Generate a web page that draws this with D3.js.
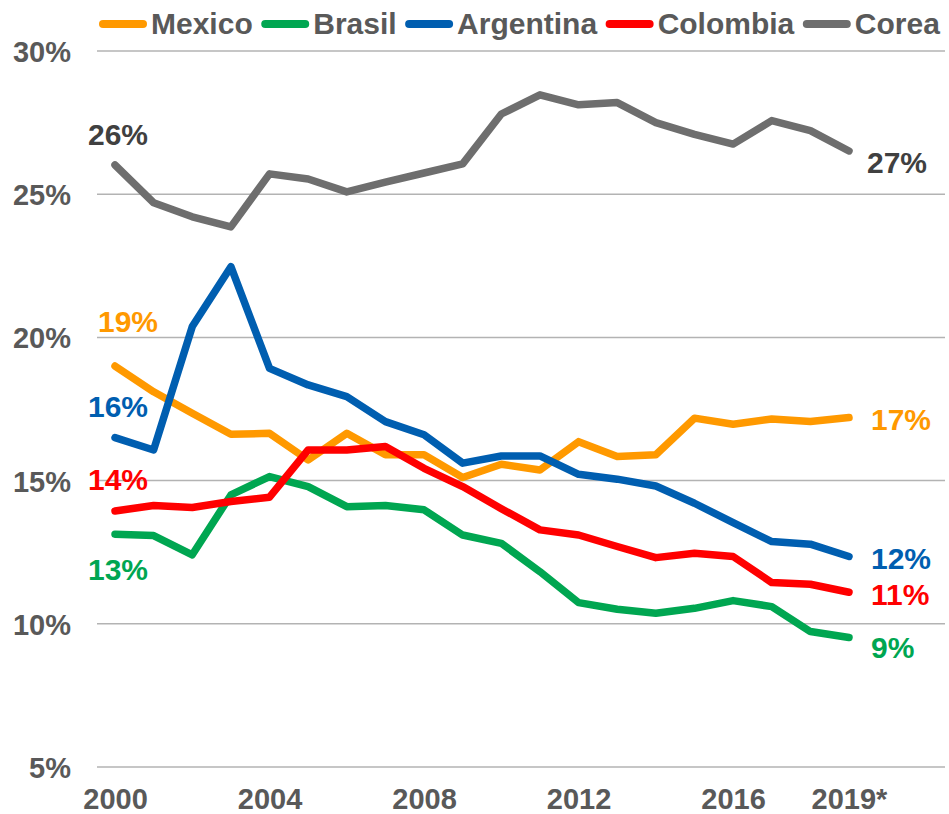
<!DOCTYPE html>
<html>
<head>
<meta charset="utf-8">
<script src="https://cdn.jsdelivr.net/npm/d3@7"></script>
<style>
  body { margin: 0; background: #fff; }
  text { font-family: "Liberation Sans", Arial, sans-serif; font-weight: bold; }
</style>
</head>
<body>
<div id="graf"></div>
<script>
// donnees
var annees = d3.range(2000, 2020);
var series = ["Mexico", "Brasil", "Argentina", "Colombia", "Corea"];
var couleurs = ["#ff9900", "#00a651", "#005eb0", "#ff0000", "#6e6e6e"];
var couleursLabel = ["#ff9900", "#00a651", "#005eb0", "#ff0000", "#404040"];

var mexico = [19.0, 18.1, 17.35, 16.62, 16.65, 15.72, 16.65, 15.9, 15.9, 15.11,
              15.57, 15.37, 16.36, 15.84, 15.9, 17.18, 16.97, 17.15, 17.06, 17.2];
var brasil = [13.13, 13.08, 12.41, 14.5, 15.14, 14.79, 14.09, 14.13, 13.98, 13.1,
              12.81, 11.82, 10.74, 10.51, 10.37, 10.54, 10.81, 10.6, 9.73, 9.52];
var argentina = [16.5, 16.07, 20.38, 22.47, 18.92, 18.34, 17.93, 17.06, 16.6, 15.61,
                 15.86, 15.86, 15.22, 15.05, 14.81, 14.21, 13.53, 12.87, 12.78, 12.35];
var colombia = [13.94, 14.13, 14.06, 14.27, 14.42, 16.07, 16.07, 16.19, 15.43, 14.79,
                14.02, 13.28, 13.1, 12.7, 12.31, 12.46, 12.35, 11.44, 11.38, 11.1];
var corea = [26.02, 24.7, 24.21, 23.86, 25.71, 25.53, 25.08, 25.42, 25.74, 26.06,
             27.8, 28.47, 28.12, 28.2, 27.5, 27.09, 26.75, 27.57, 27.22, 26.51];
var valeurs = [mexico, brasil, argentina, colombia, corea];

var labelsDebut = ["19%", "13%", "16%", "14%", "26%"];
var labelsFin = ["17%", "9%", "12%", "11%", "27%"];

var ticksY = [5, 10, 15, 20, 25, 30];
var ticksX = [2000, 2004, 2008, 2012, 2016, 2019];
var ticksXLabels = ["2000", "2004", "2008", "2012", "2016", "2019*"];

//----------------------------------------------------------------
// svg
var largeur = 949, hauteur = 814;
var svg = d3.select("#graf")
  .append("svg")
  .attr("width", largeur)
  .attr("height", hauteur);

var x = d3.scaleLinear().domain([2000, 2019]).range([115, 849]);
var y = d3.scaleLinear().domain([5, 30]).range([767, 51]);

// grille
svg.selectAll(".grille")
  .data(ticksY)
  .enter()
  .append("line")
  .attr("x1", 97).attr("x2", 945)
  .attr("y1", function(d){ return y(d); })
  .attr("y2", function(d){ return y(d); })
  .attr("stroke", "#b3b3b3")
  .attr("stroke-width", 1.5);

// axe y
var axeY = d3.axisLeft(y).tickValues(ticksY)
  .tickFormat(function(d){ return d + "%"; })
  .tickSize(0).tickPadding(0);
svg.append("g")
  .attr("transform", "translate(71,0)")
  .call(axeY)
  .call(function(g){ g.select(".domain").remove(); })
  .selectAll("text")
  .attr("font-size", "29px")
  .attr("font-family", null)
  .attr("fill", "#595959")
  .attr("dy", "0.36em");

// axe x
var axeX = d3.axisBottom(x).tickValues(ticksX)
  .tickFormat(function(d, i){ return ticksXLabels[i]; })
  .tickSize(0).tickPadding(0);
svg.append("g")
  .attr("transform", "translate(0,788)")
  .call(axeX)
  .call(function(g){ g.select(".domain").remove(); })
  .selectAll("text")
  .attr("font-size", "29px")
  .attr("font-family", null)
  .attr("fill", "#595959")
  .attr("dy", "0.72em");

// lignes
var ligne = d3.line()
  .x(function(d, i){ return x(annees[i]); })
  .y(function(d){ return y(d); });

svg.selectAll(".serie")
  .data(valeurs)
  .enter()
  .append("path")
  .attr("class", "serie")
  .attr("d", ligne)
  .attr("fill", "none")
  .attr("stroke", function(d, i){ return couleurs[i]; })
  .attr("stroke-width", 7.5)
  .attr("stroke-linejoin", "round")
  .attr("stroke-linecap", "round");

// etiquettes debut / fin (decalages en px)
var decalDebut = [[158, -34], [148, 46], [148, -21], [148, -21], [148, -20]];
var decalFin = [[22, 12], [22, 20], [22, 13], [22, 13], [18, 22]];

svg.selectAll(".labDebut")
  .data(valeurs)
  .enter()
  .append("text")
  .attr("text-anchor", "end")
  .attr("font-size", "30px")
  .attr("fill", function(d, i){ return couleursLabel[i]; })
  .attr("x", function(d, i){ return decalDebut[i][0]; })
  .attr("y", function(d, i){ return y(d[0]) + decalDebut[i][1]; })
  .text(function(d, i){ return labelsDebut[i]; });

svg.selectAll(".labFin")
  .data(valeurs)
  .enter()
  .append("text")
  .attr("font-size", "30px")
  .attr("fill", function(d, i){ return couleursLabel[i]; })
  .attr("x", function(d, i){ return x(2019) + decalFin[i][0]; })
  .attr("y", function(d, i){ return y(d[d.length - 1]) + decalFin[i][1]; })
  .text(function(d, i){ return labelsFin[i]; });

// legende
var posX = 99;
series.forEach(function(nom, i){
  svg.append("line")
    .attr("x1", posX + 4).attr("x2", posX + 44)
    .attr("y1", 24).attr("y2", 24)
    .attr("stroke", couleurs[i])
    .attr("stroke-width", 8)
    .attr("stroke-linecap", "round");
  var t = svg.append("text")
    .attr("x", posX + 52)
    .attr("y", 34)
    .attr("font-size", "30px")
    .attr("fill", "#595959")
    .text(nom);
  posX = posX + 52 + t.node().getComputedTextLength() + 8.5;
});
</script>
</body>
</html>
